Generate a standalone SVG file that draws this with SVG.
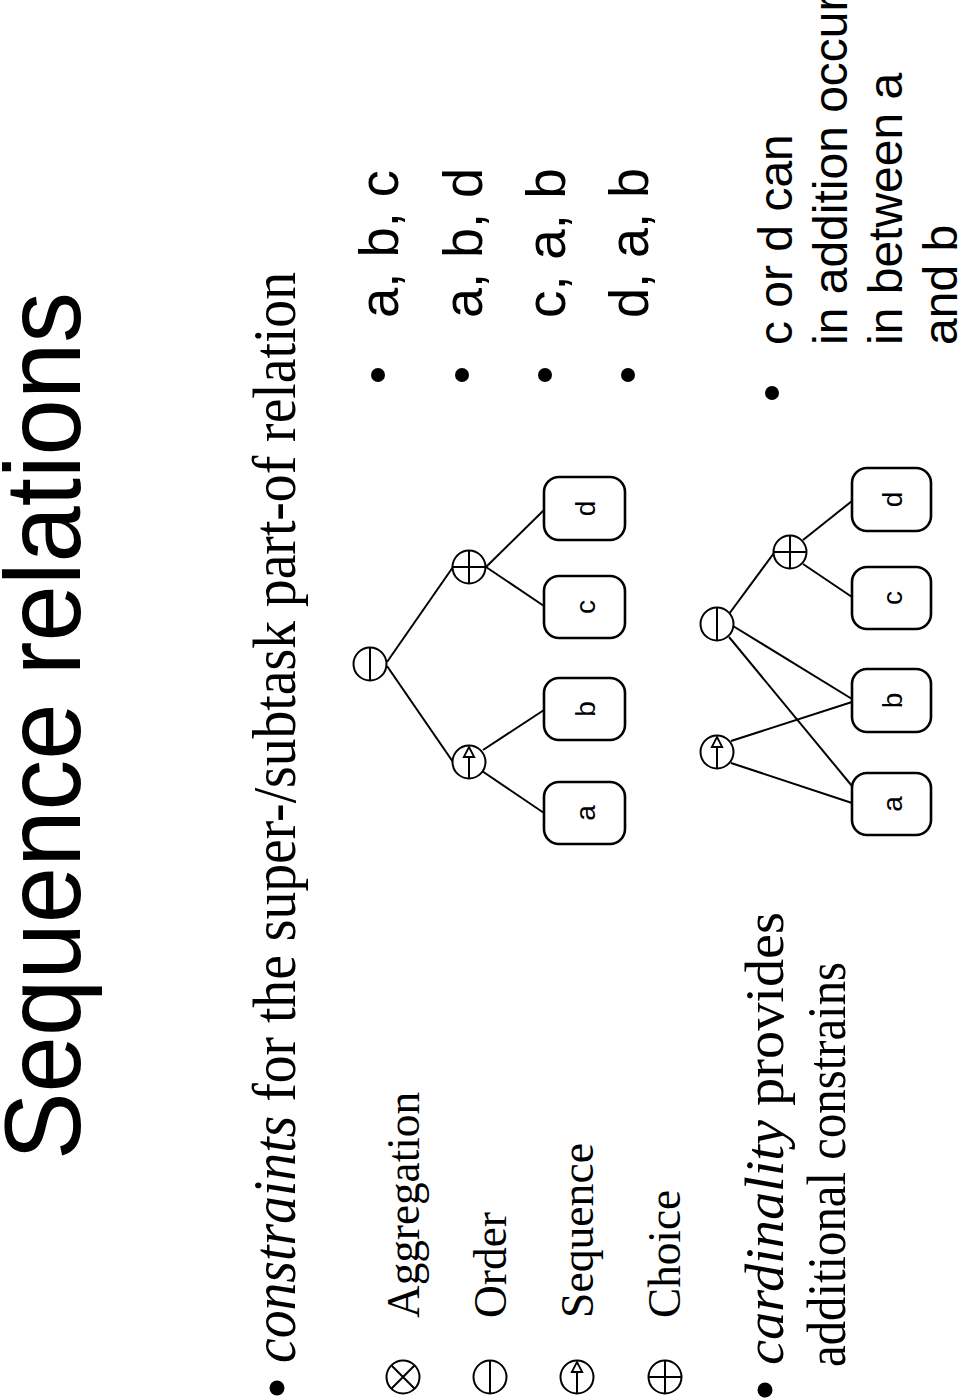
<svg xmlns="http://www.w3.org/2000/svg" width="960" height="1398" viewBox="0 0 960 1398">
<style>
.sans{font-family:"Liberation Sans",Arial,sans-serif;fill:#000}
.serif{font-family:"Liberation Serif","Times New Roman",serif;fill:#000}
.box{fill:#fff;stroke:#000;stroke-width:2.6}
.op{fill:#fff;stroke:#000;stroke-width:2}
.sym{fill:none;stroke:#000;stroke-width:2}
.tri{fill:#fff;stroke:#000;stroke-width:1.8;stroke-linejoin:miter}
.edge{stroke:#000;stroke-width:2;fill:none}
.lbl{font-family:"Liberation Sans",Arial,sans-serif;font-size:28px;text-anchor:middle}
</style>
<defs>
<g id="agg"><circle class="op" r="16.5"/><path class="sym" d="M-11.7,-11.7L11.7,11.7M-11.7,11.7L11.7,-11.7"/></g>
<g id="ord"><circle class="op" r="16.5"/><path class="sym" d="M0,-16.5V16.5"/></g>
<g id="seq"><circle class="op" r="16.5"/><path class="sym" d="M0,-5V16.5"/><path class="tri" d="M0,-15L5.2,-5H-5.2Z"/></g>
<g id="cho"><circle class="op" r="16.5"/><path class="sym" d="M-16.5,0H16.5M0,-16.5V16.5"/></g>
</defs>

<g id="title"><text class="sans" font-size="108" textLength="868" lengthAdjust="spacingAndGlyphs" transform="translate(80,1160) rotate(-90)">Sequence relations</text></g>

<g id="intro">
<circle cx="277" cy="1388" r="7.5"/>
<text class="serif" font-size="62" textLength="1091" lengthAdjust="spacingAndGlyphs" transform="translate(295,1363) rotate(-90)"><tspan font-style="italic">constraints</tspan> for the super-/subtask part-of relation</text>
</g>

<g id="legend">
<use href="#agg" x="403" y="1377"/>
<use href="#ord" x="490" y="1377"/>
<use href="#seq" x="577" y="1377"/>
<use href="#cho" x="665" y="1377"/>
<text class="serif" font-size="46" textLength="226" lengthAdjust="spacingAndGlyphs" transform="translate(419,1318) rotate(-90)">Aggregation</text>
<text class="serif" font-size="46" textLength="106" lengthAdjust="spacingAndGlyphs" transform="translate(506,1318) rotate(-90)">Order</text>
<text class="serif" font-size="46" textLength="175" lengthAdjust="spacingAndGlyphs" transform="translate(593,1318) rotate(-90)">Sequence</text>
<text class="serif" font-size="46" textLength="128" lengthAdjust="spacingAndGlyphs" transform="translate(680,1318) rotate(-90)">Choice</text>
</g>

<g id="cardinality">
<circle cx="765" cy="1390" r="7.5"/>
<text class="serif" font-size="54" textLength="453" lengthAdjust="spacingAndGlyphs" transform="translate(783,1365) rotate(-90)"><tspan font-style="italic">cardinality</tspan> provides</text>
<text class="serif" font-size="54" textLength="405" lengthAdjust="spacingAndGlyphs" transform="translate(845,1367) rotate(-90)">additional constrains</text>
</g>

<g id="answers">
<circle cx="378" cy="375" r="7"/>
<circle cx="462" cy="375" r="7"/>
<circle cx="545" cy="375" r="7"/>
<circle cx="628" cy="375" r="7"/>
<text class="sans" font-size="55" textLength="148" lengthAdjust="spacingAndGlyphs" transform="translate(398,318) rotate(-90)">a, b, c</text>
<text class="sans" font-size="55" textLength="150" lengthAdjust="spacingAndGlyphs" transform="translate(482,318) rotate(-90)">a, b, d</text>
<text class="sans" font-size="55" textLength="150" lengthAdjust="spacingAndGlyphs" transform="translate(565,318) rotate(-90)">c, a, b</text>
<text class="sans" font-size="55" textLength="150" lengthAdjust="spacingAndGlyphs" transform="translate(648,318) rotate(-90)">d, a, b</text>
</g>

<g id="note">
<circle cx="772" cy="393" r="7"/>
<text class="sans" font-size="48" transform="translate(792,345) rotate(-90)">c or d can</text>
<text class="sans" font-size="48" transform="translate(847,345) rotate(-90)">in addition occur</text>
<text class="sans" font-size="48" transform="translate(902,345) rotate(-90)">in between a</text>
<text class="sans" font-size="48" transform="translate(957,345) rotate(-90)">and b</text>
</g>

<g id="connectors">
<path class="edge" d="M387,662L453,567"/>
<path class="edge" d="M387,666L453,762"/>
<path class="edge" d="M486,567L544,510"/>
<path class="edge" d="M486,567L544,606"/>
<path class="edge" d="M482,771L544,813"/>
<path class="edge" d="M483,750L544,710"/>
<path class="edge" d="M729,614L774,553"/>
<path class="edge" d="M733,626L852,699"/>
<path class="edge" d="M729,637L852,786"/>
<path class="edge" d="M731,741L852,702"/>
<path class="edge" d="M731,763L852,803"/>
<path class="edge" d="M803,540L852,501"/>
<path class="edge" d="M803,564L852,597"/>
</g>

<g id="t1-root"><use href="#ord" x="370" y="664"/></g>
<g id="t1-choice"><use href="#cho" x="469" y="567"/></g>
<g id="t1-seq"><use href="#seq" x="469" y="762"/></g>
<g id="t1-d"><rect class="box" x="544" y="477" width="81" height="63" rx="15"/><text class="lbl" transform="translate(595,508.5) rotate(-90)">d</text></g>
<g id="t1-c"><rect class="box" x="544" y="576" width="81" height="62" rx="15"/><text class="lbl" transform="translate(595,607) rotate(-90)">c</text></g>
<g id="t1-b"><rect class="box" x="544" y="678" width="81" height="62" rx="15"/><text class="lbl" transform="translate(595,709) rotate(-90)">b</text></g>
<g id="t1-a"><rect class="box" x="544" y="782" width="81" height="62" rx="15"/><text class="lbl" transform="translate(595,813) rotate(-90)">a</text></g>

<g id="t2-root"><use href="#ord" x="717" y="624"/></g>
<g id="t2-choice"><use href="#cho" x="790" y="552"/></g>
<g id="t2-seq"><use href="#seq" x="717" y="752"/></g>
<g id="t2-d"><rect class="box" x="852" y="468" width="79" height="63" rx="15"/><text class="lbl" transform="translate(902,499.5) rotate(-90)">d</text></g>
<g id="t2-c"><rect class="box" x="852" y="567" width="79" height="62" rx="15"/><text class="lbl" transform="translate(902,598) rotate(-90)">c</text></g>
<g id="t2-b"><rect class="box" x="852" y="669" width="79" height="63" rx="15"/><text class="lbl" transform="translate(902,700.5) rotate(-90)">b</text></g>
<g id="t2-a"><rect class="box" x="852" y="773" width="79" height="62" rx="15"/><text class="lbl" transform="translate(902,804) rotate(-90)">a</text></g>
</svg>
